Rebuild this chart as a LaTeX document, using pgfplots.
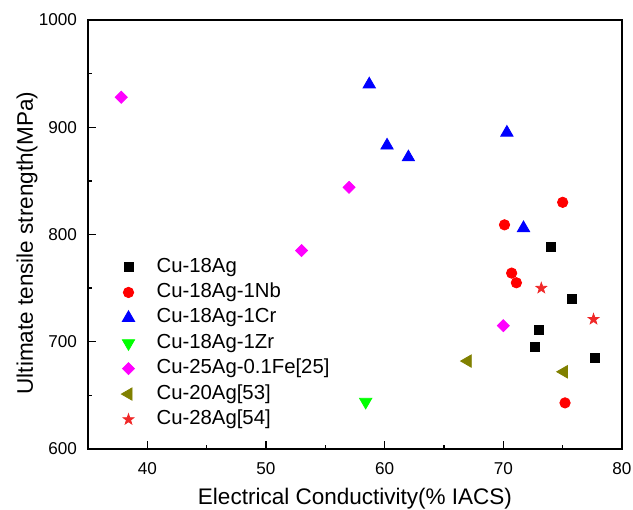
\documentclass[border=0pt]{standalone}
\usepackage{pgfplots}
\pgfplotsset{compat=1.18}
\usepackage{fontspec}
\setmainfont{Liberation Sans}
\definecolor{olivemk}{RGB}{128,128,0}
\definecolor{greenmk}{RGB}{0,255,0}
\definecolor{magmk}{RGB}{255,0,255}
\definecolor{starred}{RGB}{240,40,40}
% filled five-pointed star
\pgfdeclareplotmark{fstar}{%
  \pgfpathmoveto{\pgfpointpolar{90}{\pgfplotmarksize}}%
  \pgfpathlineto{\pgfpointpolar{126}{0.4\pgfplotmarksize}}%
  \pgfpathlineto{\pgfpointpolar{162}{\pgfplotmarksize}}%
  \pgfpathlineto{\pgfpointpolar{198}{0.4\pgfplotmarksize}}%
  \pgfpathlineto{\pgfpointpolar{234}{\pgfplotmarksize}}%
  \pgfpathlineto{\pgfpointpolar{270}{0.4\pgfplotmarksize}}%
  \pgfpathlineto{\pgfpointpolar{306}{\pgfplotmarksize}}%
  \pgfpathlineto{\pgfpointpolar{342}{0.4\pgfplotmarksize}}%
  \pgfpathlineto{\pgfpointpolar{18}{\pgfplotmarksize}}%
  \pgfpathlineto{\pgfpointpolar{54}{0.4\pgfplotmarksize}}%
  \pgfpathclose
  \pgfusepathqfillstroke}
\begin{document}
\begin{tikzpicture}
\path[use as bounding box] (-44bp,-30.5bp) rectangle (272.5bp,224.5bp);
\begin{axis}[
    scale only axis,
    width=267bp, height=214.5bp,
    xmin=35, xmax=80, ymin=600, ymax=1000,
    xtick={40,50,...,80}, ytick={600,700,...,1000},
    minor x tick num=1, minor y tick num=1,
    tick align=inside, xtick pos=bottom, ytick pos=left,
    major tick length=4bp, minor tick length=2.2bp,
    axis line style={line width=0.8bp},
    every tick/.style={line width=0.7bp, black},
    /pgf/number format/assume math mode=true,
    /pgf/number format/set thousands separator={},
    tick label style={font=\fontsize{8.6}{10}\selectfont},
    xticklabel style={yshift=-3bp},
    yticklabel style={xshift=-2bp},
    label style={font=\fontsize{11.3}{13}\selectfont},
    xlabel={Electrical Conductivity(\% IACS)},
    ylabel={Ultimate tensile strength(MPa)},
    xlabel style={at={(axis description cs:0.5,-0.1296)}, anchor=base},
    ylabel style={at={(axis description cs:-0.103,0.48)}, anchor=base},
    legend cell align=left,
    legend style={draw=none, fill=none, inner sep=0pt, row sep=0.7bp,
        at={(axis description cs:0.0618,0.453)}, anchor=north west,
        font=\fontsize{10.2}{12}\selectfont,
        nodes={inner xsep=11bp, inner ysep=1bp, text height=7.5bp, text depth=2.5bp}},
    clip=false,
]
% Cu-18Ag
\addplot[only marks, mark=square*, mark size=2.25bp, color=black]
  coordinates {(74.0,788) (75.8,740) (73.0,711) (72.7,695) (77.7,685)};
% Cu-18Ag-1Nb
\addplot[only marks, mark=*, mark size=2.6bp, color=red]
  coordinates {(75.0,830) (70.1,809) (70.7,764) (71.1,755) (75.2,643)};
% Cu-18Ag-1Cr
\addplot[only marks, mark=triangle*, mark size=3.55bp, color=blue]
  coordinates {(58.7,940) (60.2,883) (62.0,872) (70.3,895) (71.7,806)};
% Cu-18Ag-1Zr
\addplot[only marks, mark=triangle*, mark size=3.55bp, color=greenmk, mark options={rotate=180}]
  coordinates {(58.4,644)};
% Cu-25Ag-0.1Fe
\addplot[only marks, mark=square*, mark size=2.12bp, color=magmk, mark options={rotate=45}]
  coordinates {(37.8,928) (57.0,844) (53.0,785) (70.0,715)};
% Cu-20Ag
\addplot[only marks, mark=triangle*, mark size=3.55bp, color=olivemk, mark options={rotate=90}]
  coordinates {(67.0,682) (75.1,672)};
% Cu-28Ag
\addplot[only marks, mark=fstar, mark size=2.8bp, color=starred]
  coordinates {(73.2,750) (77.6,721)};
\legend{Cu-18Ag, Cu-18Ag-1Nb, Cu-18Ag-1Cr, Cu-18Ag-1Zr, Cu-25Ag-0.1Fe[25], Cu-20Ag[53], Cu-28Ag[54]}
\end{axis}
\end{tikzpicture}
\end{document}
